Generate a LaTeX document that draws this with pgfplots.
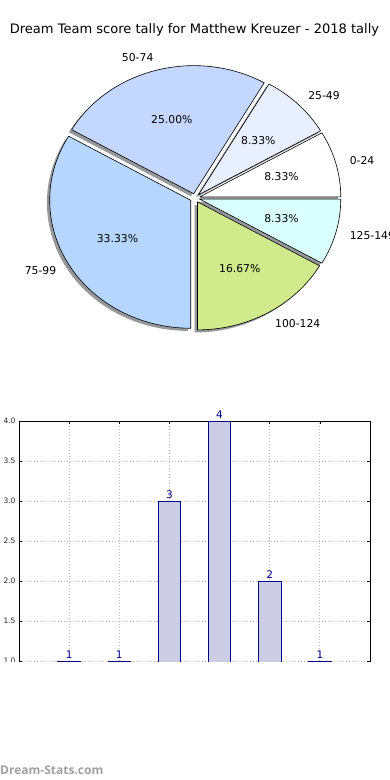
\documentclass[border=0pt]{standalone}
\usepackage{pgfplots}
\pgfplotsset{compat=1.18}
\usepackage{pgfplotstable}
\usepackage{fontspec}
\setmainfont{DejaVu Sans}
\newfontfamily\wmfont{Open Sans}

\definecolor{c0}{RGB}{255,255,255}
\definecolor{c1}{RGB}{232,240,255}
\definecolor{c2}{RGB}{196,216,255}
\definecolor{c3}{RGB}{180,214,255}
\definecolor{c4}{RGB}{208,234,140}
\definecolor{c5}{RGB}{218,255,255}
\definecolor{shadowcol}{RGB}{150,152,156}
\definecolor{barfill}{RGB}{204,204,228}
\definecolor{barnavy}{RGB}{0,0,140}
\definecolor{wmgray}{RGB}{160,160,160}

\pgfplotstableread{
x y
0 1
1 1
2 3
3 4
4 2
5 1
}\bardata

% pie geometry (pt): rx=141, ry=128, explode=0.035
\newcommand{\pieshadow}[3]{%
  \fill[shadowcol] (axis cs:{0.035*141*cos(#3)-2.8},{0.035*128*sin(#3)-2.6})
    -- (axis cs:{0.035*141*cos(#3)-2.8+141*cos(#1)},{0.035*128*sin(#3)-2.6+128*sin(#1)})
    arc[start angle=#1, end angle=#2, x radius=141pt, y radius=128pt] -- cycle;
}
\newcommand{\pieslice}[4]{%
  \filldraw[fill=#4, draw=black, line width=0.6pt, line join=round]
    (axis cs:{0.035*141*cos(#3)},{0.035*128*sin(#3)})
    -- (axis cs:{0.035*141*cos(#3)+141*cos(#1)},{0.035*128*sin(#3)+128*sin(#1)})
    arc[start angle=#1, end angle=#2, x radius=141pt, y radius=128pt] -- cycle;
}
\newcommand{\pielabel}[4]{% mid, anchor, label, pct
  \node[anchor=#2, font=\fontsize{10.8}{12}\selectfont, inner sep=0pt]
    at (axis cs:{1.135*141*cos(#1)},{1.135*128*sin(#1)}) {#3};
  \node[anchor=center, font=\fontsize{10.8}{12}\selectfont, inner sep=0pt]
    at (axis cs:{0.635*141*cos(#1)},{0.635*128*sin(#1)}) {#4};
}

\begin{document}
\begin{tikzpicture}[x=1pt,y=1pt]
\useasboundingbox (0pt,0pt) rectangle (390pt,780pt);

\node[font=\fontsize{13.05}{15}\selectfont] at (194.5pt,750pt) {Dream Team score tally for Matthew Kreuzer - 2018 tally};

% ---------------- pie ----------------
\begin{axis}[
  hide axis, disabledatascaling, clip=false,
  x=1pt, y=1pt, scale only axis,
  xmin=-195, xmax=195, ymin=-202, ymax=198,
  at={(0pt,380pt)}, anchor=south west]
  % counts 1,1,3,4,2,1 of 12 -> angles
  \pieshadow{0}{30}{15}
  \pieshadow{30}{60}{45}
  \pieshadow{60}{150}{105}
  \pieshadow{150}{270}{210}
  \pieshadow{270}{330}{300}
  \pieshadow{330}{360}{345}
  \pieslice{0}{30}{15}{c0}
  \pieslice{30}{60}{45}{c1}
  \pieslice{60}{150}{105}{c2}
  \pieslice{150}{270}{210}{c3}
  \pieslice{270}{330}{300}{c4}
  \pieslice{330}{360}{345}{c5}
  \pielabel{15}{west}{0-24}{8.33\%}
  \pielabel{45}{west}{25-49}{8.33\%}
  \pielabel{105}{east}{50-74}{25.00\%}
  \pielabel{210}{east}{75-99}{33.33\%}
  \pielabel{300}{west}{100-124}{16.67\%}
  \pielabel{345}{west}{125-149}{8.33\%}
\end{axis}

% ---------------- bars ----------------
\begin{scope}
\clip (0pt,118.4pt) rectangle (390pt,780pt);
\begin{axis}[
  width=351pt, height=264pt, scale only axis,
  at={(19pt,95pt)}, anchor=south west,
  xmin=-1, xmax=6, ymin=0.7, ymax=4,
  xtick={0,1,2,3,4,5}, xticklabels={},
  ytick={1,1.5,2,2.5,3,3.5,4},
  yticklabel style={/pgf/number format/.cd, fixed, fixed zerofill, precision=1},
  /pgf/number format/assume math mode=true,
  ticklabel style={font=\fontsize{7.5}{9}\selectfont, text=black!85},
  axis line style={black, line width=0.8pt},
  tick align=inside, major tick length=3pt,
  tick style={black, line width=0.5pt},
  grid=major, grid style={gray!55, line width=0.8pt, dash pattern=on 1pt off 2pt},
  clip=true]
  \addplot[ybar, bar width=0.45, fill=barfill, draw=barnavy, line width=0.9pt,
    nodes near coords,
    nodes near coords style={text=barnavy, font=\fontsize{10.5}{12}\selectfont, anchor=south, inner sep=2pt}]
    table[x=x, y=y] {\bardata};
\end{axis}
\end{scope}

\node[anchor=west, inner sep=0pt, text=wmgray, font=\wmfont\bfseries\fontsize{12}{14}\selectfont] at (0pt,10pt) {Dream-Stats.com};
\end{tikzpicture}
\end{document}
